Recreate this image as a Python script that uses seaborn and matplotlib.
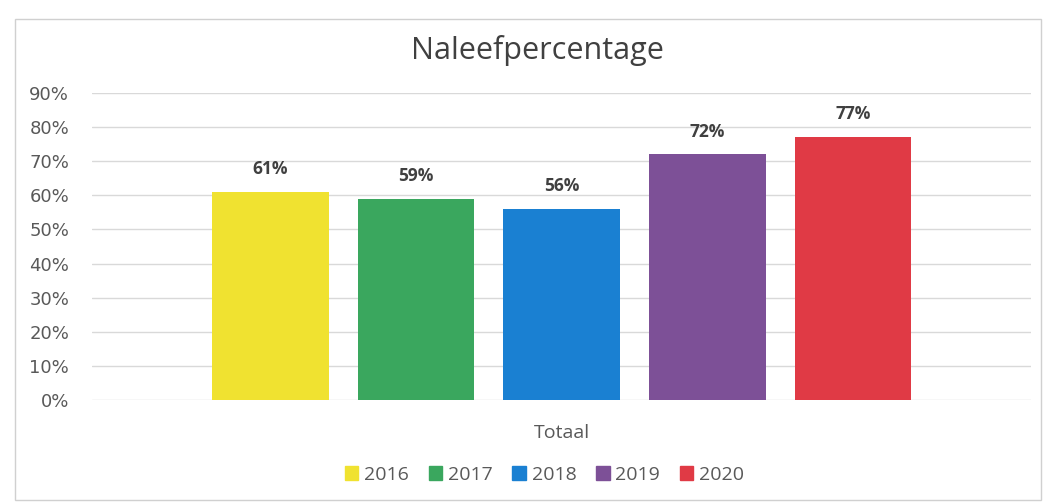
import matplotlib
matplotlib.use("Agg")
import matplotlib.pyplot as plt
import seaborn as sns
import pandas as pd
from matplotlib.patches import Rectangle
from matplotlib.ticker import PercentFormatter

# data
jaren = ["2016", "2017", "2018", "2019", "2020"]
percentages = [0.61, 0.59, 0.56, 0.72, 0.77]
categorie = ["Totaal"] * len(jaren)
kleuren = ["#F0E230", "#3AA75E", "#1A80D2", "#7D5097", "#E03A45"]

df = pd.DataFrame({"categorie": categorie, "jaar": jaren, "waarde": percentages})

sns.set_theme(style="white")
plt.rcParams["font.family"] = ["Open Sans", "DejaVu Sans"]

fig = plt.figure(figsize=(10.47, 5.04), dpi=100)
ax = fig.add_axes([0.088, 0.2063, 0.897, 0.6092])

sns.barplot(data=df, x="categorie", y="waarde", hue="jaar",
            palette=dict(zip(jaren, kleuren)), saturation=1,
            width=0.775, gap=0.2, linewidth=0, legend=False, ax=ax)

# data labels
for cont, v in zip(ax.containers, percentages):
    ax.bar_label(cont, labels=[f"{v:.0%}"], padding=10, fontsize=12.5,
                 fontweight="bold", color="#404040")

ax.set_ylim(0, 0.9)
ax.set_xlim(-0.5, 0.5)
ax.yaxis.set_major_locator(plt.MultipleLocator(0.1))
ax.yaxis.set_major_formatter(PercentFormatter(1.0, decimals=0))
ax.grid(axis="y", color="#D9D9D9", linewidth=1)
ax.set_axisbelow(True)
for s in ax.spines.values():
    s.set_visible(False)
ax.tick_params(axis="y", labelsize=13, labelcolor="#595959", pad=16.5, length=0)
ax.tick_params(axis="x", labelsize=14, labelcolor="#595959", pad=17, length=0)
for t in ax.get_yticklabels():
    t.set_family(["DejaVu Sans"])
ax.set_xlabel("")
ax.set_ylabel("")

fig.text(0.513, 0.90, "Naleefpercentage", ha="center", va="center",
         fontsize=22, color="#404040")

# legend
handles = [Rectangle((0, 0), 1, 1, color=k) for k in kleuren]
fig.legend(handles, jaren, loc="center", bbox_to_anchor=(0.52, 0.058),
           ncol=5, frameon=False, fontsize=14, handlelength=0.7,
           handleheight=0.7, handletextpad=0.3, columnspacing=1.0,
           labelcolor="#595959")

# chart border
fig.patches.append(Rectangle((0.014, 0.008), 0.98, 0.955, transform=fig.transFigure,
                             fill=False, edgecolor="#D0D0D0", linewidth=1))

fig.savefig("out.png", dpi=100)
